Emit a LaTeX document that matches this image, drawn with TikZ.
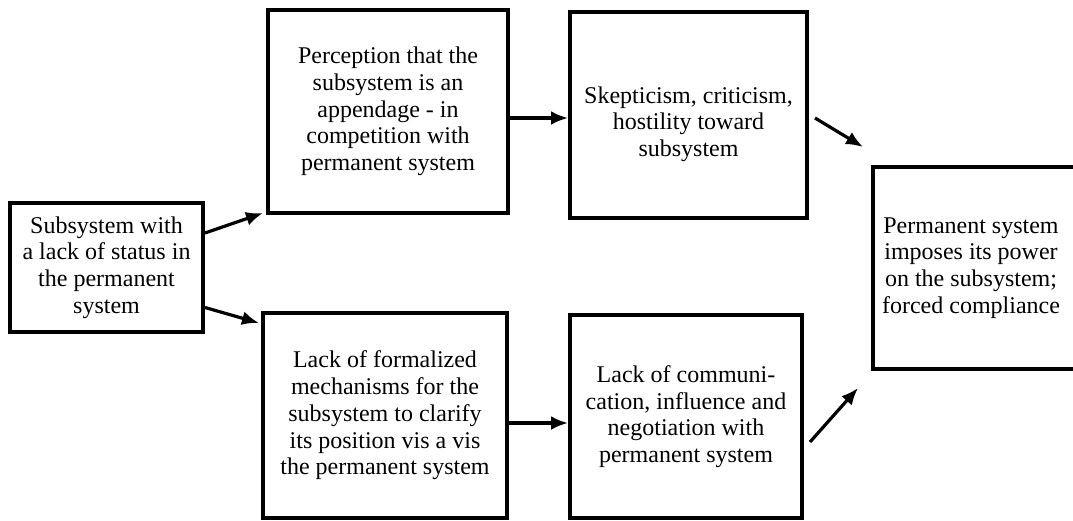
\documentclass[tikz,border=0pt]{standalone}
\usepackage{fontspec}
\setmainfont{Liberation Serif}
\usetikzlibrary{arrows.meta}

\tikzset{
  box/.style={draw=black, line width=3.2pt, rectangle, inner sep=0pt, outer sep=0pt,
    align=center, font=\fontsize{24}{26.7}\selectfont},
  txt/.style={inner sep=0pt, align=center, font=\fontsize{24}{26.7}\selectfont},
  flow/.style={line width=3.2pt, -{Latex[length=17pt,width=14pt]}}
}

\begin{document}
\begin{tikzpicture}[x=1pt, y=-1pt]
  \useasboundingbox (0,0) rectangle (1073,520);

  % left: starting condition
  \node[box, minimum width=193pt, minimum height=129pt] (L) at (106.5,267.5)
    {Subsystem with\\a lack of status in\\the permanent\\system};

  % upper branch
  \node[box, minimum width=240pt, minimum height=203pt] (TM) at (388,111.5)
    {Perception that the\\subsystem is an\\appendage - in\\competition with\\permanent system};
  \node[box, minimum width=237pt, minimum height=206pt] (TR) at (688.5,115) {};
  \node[txt] (TRt) at ([yshift=-9pt]TR.center)
    {Skepticism, criticism,\\hostility toward\\subsystem};

  % lower branch
  \node[box, minimum width=244pt, minimum height=205pt] (BM) at (385,415.5)
    {Lack of formalized\\mechanisms for the\\subsystem to clarify\\its position vis a vis\\the permanent system};
  \node[box, minimum width=232pt, minimum height=203pt] (BR) at (686,416.5)
    {Lack of communi-\\cation, influence and\\negotiation with\\permanent system};

  % outcome
  \node[box, minimum width=205pt, minimum height=202pt] (F) at (975.5,268) {};
  \node[txt] (Ft) at ([xshift=-4.5pt]F.center)
    {Permanent system\\imposes its power\\on the subsystem;\\forced compliance};

  % connectors
  \draw[flow] ([xshift=2pt,yshift=34.5pt]L.east) -- ([xshift=-5pt]TM.south west);
  \draw[flow] ([xshift=2pt,yshift=-40pt]L.east) -- ([xshift=-4pt,yshift=-10pt]BM.north west);
  \draw[flow] ([xshift=2pt,yshift=-6.5pt]TM.east) -- ([xshift=-2pt,yshift=-3pt]TR.west);
  \draw[flow] ([xshift=2pt,yshift=-7.5pt]BM.east) -- ([xshift=-2pt,yshift=-6.5pt]BR.west);
  \draw[flow] ([xshift=8pt,yshift=-3pt]TR.east) -- ([xshift=-10pt,yshift=20pt]F.north west);
  \draw[flow] ([xshift=8pt,yshift=-25.5pt]BR.east) -- ([xshift=-15pt,yshift=-19pt]F.south west);
\end{tikzpicture}
\end{document}
